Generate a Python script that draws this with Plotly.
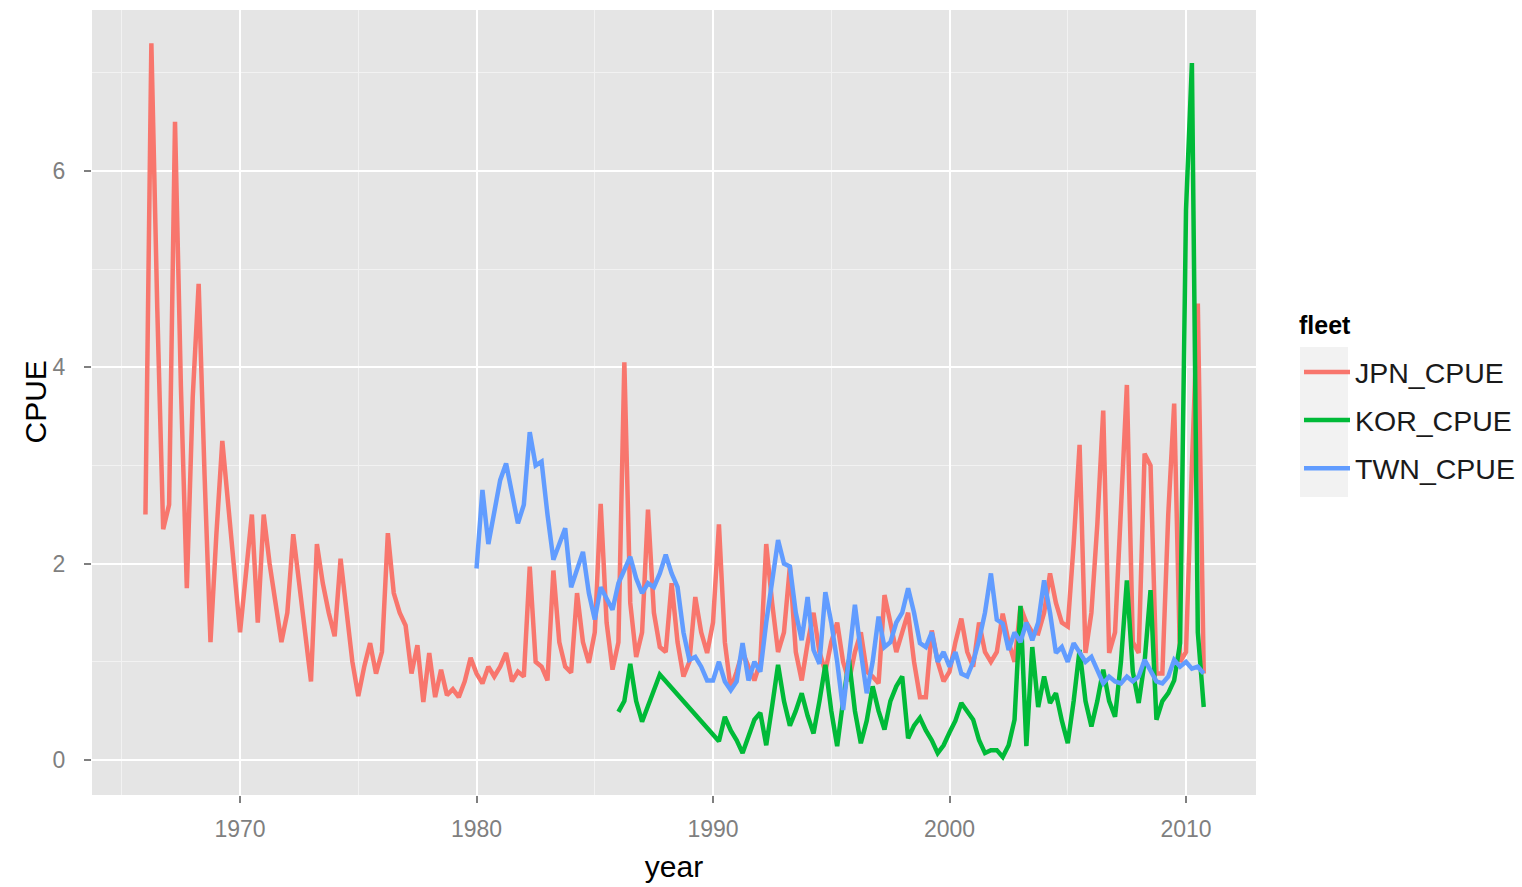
import plotly.graph_objects as go

# Quarterly CPUE index by fleet (values per quarter, Q1..Q4 of each year)
JPN_START = 1966
JPN_CPUE = [
    2.5, 7.3, 4.6, 2.35,      # 1966
    2.6, 6.5, 3.8, 1.75,      # 1967
    3.7, 4.85, 2.9, 1.2,      # 1968
    2.3, 3.25, 2.6, 1.9,      # 1969
    1.3, 1.9, 2.5, 1.4,       # 1970
    2.5, 2.0, 1.6, 1.2,       # 1971
    1.5, 2.3, 1.8, 1.3,       # 1972
    0.8, 2.2, 1.8, 1.5,       # 1973
    1.26, 2.05, 1.5, 1.0,     # 1974
    0.65, 0.95, 1.19, 0.88,   # 1975
    1.1, 2.31, 1.7, 1.5,      # 1976
    1.37, 0.88, 1.17, 0.59,   # 1977
    1.09, 0.64, 0.92, 0.66,   # 1978
    0.72, 0.64, 0.8, 1.04,    # 1979
    0.88, 0.78, 0.95, 0.85,   # 1980
    0.95, 1.09, 0.8, 0.9,     # 1981
    0.85, 1.97, 1.0, 0.95,    # 1982
    0.81, 1.93, 1.2, 0.95,    # 1983
    0.89, 1.7, 1.2, 0.99,     # 1984
    1.3, 2.61, 1.4, 0.92,     # 1985
    1.2, 4.05, 1.6, 1.05,     # 1986
    1.3, 2.55, 1.5, 1.15,     # 1987
    1.1, 1.8, 1.2, 0.85,      # 1988
    1.0, 1.66, 1.3, 1.09,     # 1989
    1.4, 2.4, 1.2, 0.72,      # 1990
    0.9, 1.1, 0.95, 0.81,     # 1991
    1.0, 2.2, 1.6, 1.1,       # 1992
    1.3, 1.97, 1.1, 0.81,     # 1993
    1.19, 1.5, 1.1, 0.9,      # 1994
    1.2, 1.4, 1.0, 0.8,       # 1995
    1.1, 1.3, 0.9, 0.85,      # 1996
    0.78, 1.68, 1.4, 1.1,     # 1997
    1.3, 1.5, 1.0, 0.64,      # 1998
    0.64, 1.32, 1.0, 0.8,     # 1999
    0.9, 1.2, 1.44, 1.1,      # 2000
    0.95, 1.4, 1.1, 1.0,      # 2001
    1.1, 1.49, 1.2, 1.0,      # 2002
    1.56, 1.4, 1.3, 1.29,     # 2003
    1.5, 1.9, 1.6, 1.4,       # 2004
    1.36, 2.2, 3.21, 1.09,    # 2005
    1.5, 2.4, 3.56, 1.09,     # 2006
    1.3, 2.5, 3.82, 1.2,      # 2007
    1.09, 3.12, 3.0, 0.88,    # 2008
    0.88, 2.5, 3.63, 1.0,     # 2009
    1.1, 3.0, 4.65, 0.88,     # 2010
]

KOR_START = 1986
KOR_CPUE = [
    0.49, 0.6, 0.98, 0.6,     # 1986
    0.39, 0.55, 0.72, 0.87,   # 1987
    None, None, None, None,   # 1988
    None, None, None, None,   # 1989
    None, 0.19, 0.44, 0.3,    # 1990
    0.2, 0.07, 0.25, 0.41,    # 1991
    0.48, 0.15, 0.55, 0.97,   # 1992
    0.6, 0.35, 0.5, 0.68,     # 1993
    0.45, 0.27, 0.6, 0.97,    # 1994
    0.5, 0.14, 0.6, 1.02,     # 1995
    0.5, 0.17, 0.4, 0.75,     # 1996
    0.5, 0.31, 0.6, 0.75,     # 1997
    0.85, 0.22, 0.35, 0.43,   # 1998
    0.3, 0.2, 0.07, 0.15,     # 1999
    0.28, 0.4, 0.58, 0.5,     # 2000
    0.41, 0.2, 0.07, 0.1,     # 2001
    0.1, 0.03, 0.15, 0.41,    # 2002
    1.57, 0.14, 1.15, 0.54,   # 2003
    0.85, 0.58, 0.68, 0.4,    # 2004
    0.17, 0.6, 1.12, 0.6,     # 2005
    0.34, 0.6, 0.92, 0.6,     # 2006
    0.44, 1.0, 1.83, 0.9,     # 2007
    0.58, 1.0, 1.73, 0.41,    # 2008
    0.6, 0.68, 0.81, 1.19,    # 2009
    5.6, 7.1, 1.3, 0.54,      # 2010
]

TWN_START = 1980
TWN_CPUE = [
    1.95, 2.75, 2.2, 2.5,     # 1980
    2.85, 3.02, 2.7, 2.41,    # 1981
    2.6, 3.34, 3.0, 3.04,     # 1982
    2.5, 2.04, 2.2, 2.36,     # 1983
    1.76, 1.95, 2.12, 1.7,    # 1984
    1.43, 1.76, 1.65, 1.53,   # 1985
    1.8, 1.95, 2.07, 1.85,    # 1986
    1.7, 1.8, 1.76, 1.9,      # 1987
    2.09, 1.9, 1.76, 1.3,     # 1988
    1.02, 1.05, 0.95, 0.81,   # 1989
    0.81, 1.0, 0.8, 0.71,     # 1990
    0.8, 1.19, 0.81, 1.0,     # 1991
    0.9, 1.4, 1.8, 2.24,      # 1992
    2.0, 1.97, 1.5, 1.22,     # 1993
    1.66, 1.12, 0.98, 1.71,   # 1994
    1.4, 1.0, 0.51, 1.0,      # 1995
    1.58, 1.1, 0.68, 1.0,     # 1996
    1.46, 1.15, 1.2, 1.4,     # 1997
    1.5, 1.75, 1.5, 1.19,     # 1998
    1.15, 1.3, 1.0, 1.1,      # 1999
    0.95, 1.1, 0.88, 0.85,    # 2000
    1.0, 1.22, 1.5, 1.9,      # 2001
    1.43, 1.39, 1.12, 1.3,    # 2002
    1.2, 1.4, 1.22, 1.4,      # 2003
    1.83, 1.5, 1.09, 1.15,    # 2004
    1.0, 1.19, 1.09, 1.0,     # 2005
    1.05, 0.9, 0.78, 0.85,    # 2006
    0.8, 0.78, 0.85, 0.8,     # 2007
    0.85, 1.02, 0.9, 0.8,     # 2008
    0.78, 0.85, 1.02, 0.95,   # 2009
    1.0, 0.93, 0.95, 0.88,    # 2010
]

FLEETS = ["JPN_CPUE", "KOR_CPUE", "TWN_CPUE"]
COLORS = ["#F8766D", "#00BA38", "#619CFF"]

X_TICKS = [1970, 1980, 1990, 2000, 2010]
X_MINOR = [1965, 1975, 1985, 1995, 2005]
Y_TICKS = [0, 2, 4, 6]
Y_MINOR = [1, 3, 5, 7]


def quarter_times(start, n):
    """Decimal year of each quarterly observation."""
    return [start + i / 4 for i in range(n)]


FONT = "Liberation Sans, Arial, sans-serif"
GREY = "#7F7F7F"

# plot-area geometry in pixels, used to place the legend furniture
L, R, T, B = 92, 1256, 10, 795
PW, PH = R - L, B - T


def px_x(px):
    return (px - L) / PW


def px_y(py):
    return (B - py) / PH


fig = go.Figure()
for name, start, vals, color in zip(
    FLEETS,
    [JPN_START, KOR_START, TWN_START],
    [JPN_CPUE, KOR_CPUE, TWN_CPUE],
    COLORS,
):
    fig.add_trace(
        go.Scatter(
            x=quarter_times(start, len(vals)),
            y=vals,
            mode="lines",
            name=name,
            legendgroup=name,
            connectgaps=True,
            line=dict(color=color, width=4.5),
        )
    )

axis_common = dict(
    showline=False,
    zeroline=False,
    gridcolor="white",
    gridwidth=2.2,
    ticks="outside",
    ticklen=7,
    tickwidth=1.5,
    tickcolor=GREY,
    tickfont=dict(family=FONT, size=23, color=GREY),
)

# legend key background (light grey panel behind the key glyphs)
fig.add_shape(
    type="rect", xref="paper", yref="paper",
    x0=px_x(1300), x1=px_x(1348), y0=px_y(497), y1=px_y(347),
    fillcolor="#F2F2F2", line=dict(width=0), layer="below",
)

fig.add_annotation(
    text="<b>fleet</b>", xref="paper", yref="paper",
    x=px_x(1297), y=px_y(325), xanchor="left", yanchor="middle",
    showarrow=False, font=dict(family=FONT, size=25, color="black"),
)
fig.add_annotation(
    text="CPUE", xref="paper", yref="paper",
    x=px_x(35), y=0.5, xanchor="center", yanchor="middle", textangle=-90,
    showarrow=False, font=dict(family=FONT, size=30, color="black"),
)

fig.update_layout(
    width=1522,
    height=887,
    margin=dict(l=L, r=1522 - R, t=T, b=887 - B, autoexpand=False),
    paper_bgcolor="white",
    plot_bgcolor="#E5E5E5",
    font=dict(family=FONT),
    xaxis=dict(
        range=[1963.74, 2012.96],
        tickvals=X_TICKS,
        ticklabelstandoff=6,
        minor=dict(tickvals=X_MINOR, showgrid=True, gridcolor="#F2F2F2", gridwidth=1.2, ticks=""),
        title=dict(text="year", font=dict(family=FONT, size=30, color="black")),
        **axis_common,
    ),
    yaxis=dict(
        range=[-0.357, 7.64],
        tickvals=Y_TICKS,
        ticklabelstandoff=14,
        minor=dict(tickvals=Y_MINOR, showgrid=True, gridcolor="#F2F2F2", gridwidth=1.2, ticks=""),
        **axis_common,
    ),
    legend=dict(
        font=dict(family=FONT, size=28.5, color="#1a1a1a"),
        x=px_x(1299),
        xanchor="left",
        y=px_y(347),
        yanchor="top",
        traceorder="grouped",
        tracegroupgap=8,
        itemwidth=46,
        bgcolor="rgba(0,0,0,0)",
    ),
)

fig.write_html("out.html")
